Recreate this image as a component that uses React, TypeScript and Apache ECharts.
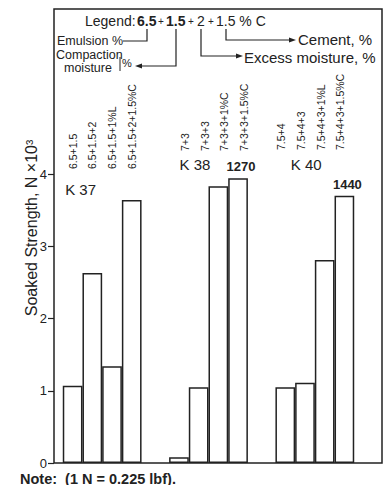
import React, { useEffect, useRef } from "react";
import * as echarts from "echarts";

// ---- data ----
const groups = ["K 37", "K 38", "K 40"];
const mixLabels = [
  ["6.5+1.5", "6.5+1.5+2", "6.5+1.5+1%L", "6.5+1.5+2+1.5%C"],
  ["7+3", "7+3+3", "7+3+3+1%C", "7+3+3+1.5%C"],
  ["7.5+4", "7.5+4+3", "7.5+4+3+1%L", "7.5+4+3+1.5%C"],
];
// soaked strength (N x10^3) by bar position within each group
const bar1 = [1.07, 0.08, 1.05];
const bar2 = [2.63, 1.05, 1.11];
const bar3 = [1.34, 3.83, 2.81];
const bar4 = [3.64, 3.94, 3.7];
const topNotes = ["", "1270", "1440"];
const yMin = 0;
const yMax = 4;
const yStep = 1;

const FONT = "'Liberation Sans', Arial, Helvetica, sans-serif";
const INK = "#222222";
const BAR_W = 19.7;

// per-group layout of the rotated mix labels and the K labels
const labelBottom = [169, 151, 150];
const labelDx = [0, 6, -4];
const kPos = [
  { dx: -37, y: 189 },
  { dx: -29, y: 164 },
  { dx: -24, y: 164 },
];

export default function App() {
  const ref = useRef<HTMLDivElement>(null);
  useEffect(() => {
    if (!ref.current) return;
    const chart = echarts.init(ref.current, null, { renderer: "svg" });
    const seriesData = [bar1, bar2, bar3, bar4];
    const series = seriesData.map((arr, si) => ({
      type: "bar",
      name: "bar" + (si + 1),
      barWidth: BAR_W,
      barGap: "0%",
      data: arr.map((v, gi) =>
        si === 3 && topNotes[gi]
          ? {
              value: v,
              label: {
                show: true,
                position: "top",
                distance: 5,
                formatter: topNotes[gi],
                fontFamily: FONT,
                fontWeight: "bold",
                fontSize: 13,
                color: INK,
                offset: [3, 0],
              },
            }
          : v
      ),
      itemStyle: { color: "#ffffff", borderColor: INK, borderWidth: 1.5 },
      silent: true,
    }));

    const T = (text: string, x: number, y: number, font: string) => ({
      type: "text",
      x,
      y,
      style: { text, font, fill: INK, verticalAlign: "middle", align: "left" },
    });

    const staticGraphic: any[] = [
      {
        type: "rect",
        shape: { x: 54, y: 9, width: 328, height: 454 },
        style: { fill: "none", stroke: INK, lineWidth: 1.5 },
        z: 50,
      },
      {
        type: "text",
        x: 31,
        y: 228,
        rotation: Math.PI / 2,
        style: {
          text: "Soaked Strength, N ×10³",
          font: `16px ${FONT}`,
          fill: INK,
          align: "center",
          verticalAlign: "middle",
        },
      },
      T("Note:  (1 N = 0.225 lbf).", 20, 478.5, `bold 14.5px ${FONT}`),
      // legend line
      T("Legend:", 85, 21, `14px ${FONT}`),
      T("6.5", 137, 21, `bold 14px ${FONT}`),
      T("+", 158, 21, `10px ${FONT}`),
      T("1.5", 166, 21, `bold 14px ${FONT}`),
      T("+", 188, 21, `10px ${FONT}`),
      T("2", 197, 21, `14px ${FONT}`),
      T("+", 208, 21, `10px ${FONT}`),
      T("1.5 % C", 216, 21, `14px ${FONT}`),
      T("Emulsion %", 57, 41, `12.5px ${FONT}`),
      T("Compaction", 56, 55, `12.5px ${FONT}`),
      T("moisture", 64, 68, `12.5px ${FONT}`),
      T("%", 122, 63, `11px ${FONT}`),
      { type: "line", shape: { x1: 120, y1: 57, x2: 120, y2: 71 }, style: { stroke: INK, lineWidth: 1 } },
      T("Excess moisture, %", 244, 57.5, `15px ${FONT}`),
      T("Cement, %", 298, 39.5, `15px ${FONT}`),
      // connectors
      { type: "polyline", shape: { points: [[147, 29], [147, 41], [123, 41]] }, style: { stroke: INK, lineWidth: 1.2, fill: "none" } },
      { type: "polyline", shape: { points: [[176, 29], [176, 66], [140, 66]] }, style: { stroke: INK, lineWidth: 1.2, fill: "none" } },
      { type: "polygon", shape: { points: [[135, 66], [142, 63.5], [142, 68.5]] }, style: { fill: INK } },
      { type: "polyline", shape: { points: [[201, 29], [201, 56], [238, 56]] }, style: { stroke: INK, lineWidth: 1.2, fill: "none" } },
      { type: "polygon", shape: { points: [[243, 56], [236, 53.5], [236, 58.5]] }, style: { fill: INK } },
      { type: "polyline", shape: { points: [[226, 29], [226, 40], [291, 40]] }, style: { stroke: INK, lineWidth: 1.2, fill: "none" } },
      { type: "polygon", shape: { points: [[296, 40], [289, 37.5], [289, 42.5]] }, style: { fill: INK } },
    ];

    chart.setOption({
      animation: false,
      backgroundColor: "#ffffff",
      textStyle: { fontFamily: FONT },
      grid: { left: 49, right: 17, top: 174, bottom: 22, containLabel: false },
      xAxis: {
        type: "category",
        data: groups,
        axisLine: { show: false },
        axisTick: { show: false },
        axisLabel: { show: false },
        splitLine: { show: false },
      },
      yAxis: {
        type: "value",
        min: yMin,
        max: yMax,
        interval: yStep,
        offset: -5,
        axisLine: { show: false },
        axisTick: { show: true, length: 6, inside: false, lineStyle: { color: INK, width: 1.2 } },
        axisLabel: { margin: 7, fontSize: 13, color: INK, fontFamily: FONT },
        splitLine: { show: false },
      },
      series,
      graphic: staticGraphic,
    });

    // rotated mix labels & group names, positioned from the category axis
    const dyn: any[] = [];
    groups.forEach((g, gi) => {
      const cx = chart.convertToPixel({ xAxisIndex: 0 }, gi) as number;
      mixLabels[gi].forEach((txt, si) => {
        const bx = cx + (si - 1.5) * BAR_W + labelDx[gi];
        dyn.push({
          type: "text",
          x: bx,
          y: labelBottom[gi],
          rotation: Math.PI / 2,
          style: {
            text: txt,
            font: `10.5px ${FONT}`,
            fill: INK,
            align: "left",
            verticalAlign: "middle",
          },
        });
      });
      dyn.push(T(g, cx + kPos[gi].dx, kPos[gi].y, `15px ${FONT}`));
    });
    chart.setOption({ graphic: staticGraphic.concat(dyn) });

    return () => chart.dispose();
  }, []);
  return (
    <div
      ref={ref}
      style={{ position: "fixed", left: 0, top: 0, width: 385, height: 485 }}
    />
  );
}
